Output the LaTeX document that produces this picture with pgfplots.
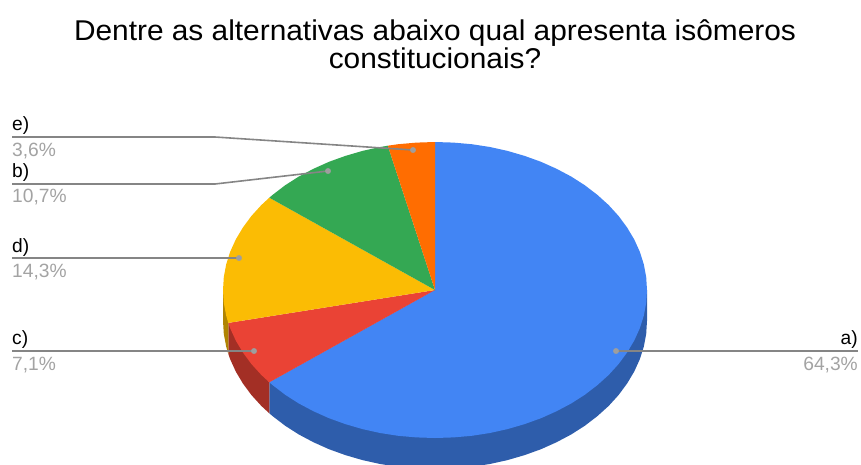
\documentclass[border=0pt]{standalone}
\usepackage{fontspec}
\setmainfont{Liberation Sans}
\usepackage{graphicx}
\usepackage{pgfplots}
\pgfplotsset{compat=1.18}

\definecolor{sa}{HTML}{4285F4}
\definecolor{sb}{HTML}{34A853}
\definecolor{sc}{HTML}{EA4335}
\definecolor{sd}{HTML}{FBBC04}
\definecolor{se}{HTML}{FF6D01}
\definecolor{wa}{HTML}{2E5DAB}
\definecolor{wc}{HTML}{A32F25}
\definecolor{wd}{HTML}{B08403}
\definecolor{leader}{HTML}{858585}
\definecolor{dot}{HTML}{9E9E9E}
\definecolor{pct}{HTML}{A3A3A3}

\newcommand{\lab}[1]{\fontsize{19.2}{19.2}\selectfont #1}
\newcommand{\ttl}[1]{\scalebox{1.044}[1]{\fontsize{28.6}{29}\selectfont #1}}

\begin{document}
\begin{tikzpicture}
\useasboundingbox (0,0) rectangle (861pt,464pt);
\begin{axis}[
    at={(0,0)}, anchor=south west,
    width=861pt, height=464pt, scale only axis,
    xmin=0, xmax=861, ymin=0, ymax=464,
    y dir=reverse,
    hide axis,
]
% side walls, pixel coordinates of the picture
\addplot[fill=wa, draw=none] coordinates {
    (647,290) (647,321) (646.2,333.9) (643.8,346.7) (639.8,359.3) (634.2,371.6)
    (627.1,383.5) (618.6,395) (608.7,405.9) (597.4,416.1) (584.9,425.7)
    (571.3,434.4) (556.6,442.2) (541,449.2) (524.6,455.1) (507.5,460.1)
    (489.9,464) (471.8,466.8) (453.5,468.4) (435,469) (416.5,468.4)
    (398.2,466.8) (380.1,464) (362.5,460.1) (345.4,455.1) (329,449.2)
    (313.4,442.2) (298.7,434.4) (285.1,425.7) (272.6,416.1) (269.3,413.3)
    (269.3,382.3) (435,290)
} --cycle;
\addplot[fill=wc, draw=none] coordinates {
    (269.3,382.3) (269.3,413.3) (261.3,405.9) (251.4,395) (242.9,383.5)
    (235.8,371.6) (230.2,359.3) (228.3,353.9) (228.3,322.9)
} --cycle;
\addplot[fill=wd, draw=none] coordinates {
    (223,290) (223,321) (223.8,333.9) (226.2,346.7) (228.3,353.9) (228.3,322.9)
} --cycle;
% a) 64,3
\addplot[fill=sa, draw=none] coordinates {
    (435,290) (435,142) (453.5,142.6) (471.8,144.2) (489.9,147) (507.5,150.9)
    (524.6,155.9) (541,161.8) (556.6,168.8) (571.3,176.6) (584.9,185.3)
    (597.4,194.9) (608.7,205.1) (618.6,216) (627.1,227.5) (634.2,239.4)
    (639.8,251.7) (643.8,264.3) (646.2,277.1) (647,290) (646.2,302.9)
    (643.8,315.7) (639.8,328.3) (634.2,340.6) (627.1,352.5) (618.6,364)
    (608.7,374.9) (597.4,385.1) (584.9,394.7) (571.3,403.4) (556.6,411.2)
    (541,418.2) (524.6,424.1) (507.5,429.1) (489.9,433) (471.8,435.8)
    (453.5,437.4) (435,438) (416.5,437.4) (398.2,435.8) (380.1,433)
    (362.5,429.1) (345.4,424.1) (329,418.2) (313.4,411.2) (298.7,403.4)
    (285.1,394.7) (272.6,385.1) (269.3,382.3)
} --cycle;
% c) 7,1
\addplot[fill=sc, draw=none] coordinates {
    (435,290) (269.3,382.3) (261.3,374.9) (251.4,364) (242.9,352.5)
    (235.8,340.6) (230.2,328.3) (228.3,322.9)
} --cycle;
% d) 14,3
\addplot[fill=sd, draw=none] coordinates {
    (435,290) (228.3,322.9) (226.2,315.7) (223.8,302.9) (223,290) (223.8,277.1)
    (226.2,264.3) (230.2,251.7) (235.8,239.4) (242.9,227.5) (251.4,216)
    (261.3,205.1) (269.3,197.7)
} --cycle;
% b) 10,7
\addplot[fill=sb, draw=none] coordinates {
    (435,290) (269.3,197.7) (272.6,194.9) (285.1,185.3) (298.7,176.6)
    (313.4,168.8) (329,161.8) (345.4,155.9) (362.5,150.9) (380.1,147)
    (387.8,145.7)
} --cycle;
% e) 3,6
\addplot[fill=se, draw=none] coordinates {
    (435,290) (387.8,145.7) (398.2,144.2) (416.5,142.6) (435,142)
} --cycle;

% leader lines
\addplot[leader, line width=1.6pt] coordinates {(12,137) (215,137) (413,150)};
\addplot[leader, line width=1.6pt] coordinates {(12,184) (215,184) (328,171)};
\addplot[leader, line width=1.6pt] coordinates {(12,258) (239,258)};
\addplot[leader, line width=1.6pt] coordinates {(12,351) (254,351)};
\addplot[leader, line width=1.6pt] coordinates {(616,351) (858,351)};
\addplot[dot, only marks, mark=*, mark size=2.7pt, mark options={fill=dot, draw=dot, line width=0.4pt}] coordinates {
    (413,150) (328,171) (239,258) (254,351) (616,351)
};

% title
\node[anchor=base, inner sep=0pt] at (axis cs:435,40) {\ttl{Dentre as alternativas abaixo qual apresenta isômeros}};
\node[anchor=base, inner sep=0pt] at (axis cs:435,68.5) {\ttl{constitucionais?}};

% labels
\node[anchor=base west, inner sep=0pt] at (axis cs:12,130) {\lab{e)}};
\node[anchor=base west, inner sep=0pt, text=pct] at (axis cs:12,156) {\lab{3,6\%}};
\node[anchor=base west, inner sep=0pt] at (axis cs:12,177) {\lab{b)}};
\node[anchor=base west, inner sep=0pt, text=pct] at (axis cs:12,202.5) {\lab{10,7\%}};
\node[anchor=base west, inner sep=0pt] at (axis cs:12,252) {\lab{d)}};
\node[anchor=base west, inner sep=0pt, text=pct] at (axis cs:12,277) {\lab{14,3\%}};
\node[anchor=base west, inner sep=0pt] at (axis cs:12,344) {\lab{c)}};
\node[anchor=base west, inner sep=0pt, text=pct] at (axis cs:12,370.5) {\lab{7,1\%}};
\node[anchor=base east, inner sep=0pt] at (axis cs:858,344) {\lab{a)}};
\node[anchor=base east, inner sep=0pt, text=pct] at (axis cs:858,370.5) {\lab{64,3\%}};
\end{axis}
\end{tikzpicture}
\end{document}
